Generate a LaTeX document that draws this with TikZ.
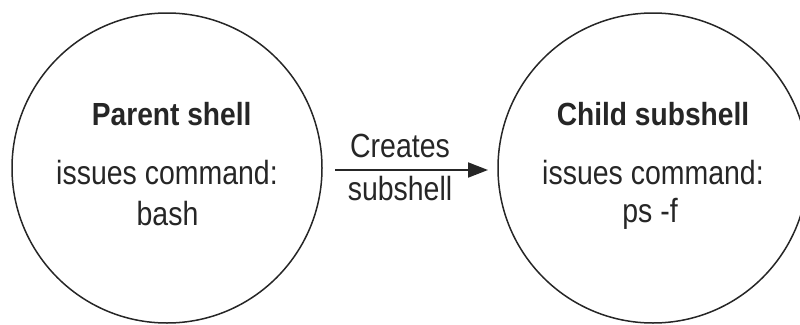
\documentclass[tikz,border=0pt]{standalone}
\usepackage{fontspec}
\setmainfont{Liberation Sans}[FakeStretch=0.85]
\newfontfamily\headfont{Liberation Sans}[FakeStretch=0.88]
\usetikzlibrary{arrows.meta}
\definecolor{ink}{HTML}{262626}
\begin{document}
\begin{tikzpicture}[x=1pt,y=-1pt,
  shellcircle/.style={circle,draw=ink,line width=1.5pt,minimum size=310pt,inner sep=0pt},
  headtext/.style={anchor=base,inner sep=0pt,text=ink,font=\headfont\bfseries\fontsize{32}{36}\selectfont},
  bodytext/.style={anchor=base,inner sep=0pt,text=ink,font=\fontsize{33.5}{38}\selectfont},
  flow/.style={draw=ink,line width=2pt,-{Triangle[length=20pt,width=15pt]}}]
  \useasboundingbox (0,0) rectangle (800,324);
  \begin{scope}
    \clip (0,0) rectangle (800,324);
    % the two shells
    \node[shellcircle] (parent) at (167,168) {};
    \node[shellcircle] (child) at (653,168) {};
  \end{scope}
  % parent shell text
  \node[headtext] (ptitle) at (171.7,125) {Parent shell};
  \node[bodytext] (pcmd) at (167,184) {issues command:};
  \node[bodytext] (parg) at (167.5,225) {bash};
  % child shell text
  \node[headtext] (ctitle) at (653,125) {Child subshell};
  \node[bodytext] (ccmd) at (653,184) {issues command:};
  \node[bodytext] (carg) at (650,222) {ps -f};
  % connector
  \coordinate (from) at (335,170);
  \coordinate (to) at (488,170);
  \draw[flow] (from) -- (to);
  \node[bodytext] (lbl1) at (400,157) {Creates};
  \node[bodytext] (lbl2) at (400,200) {subshell};
\end{tikzpicture}
\end{document}
